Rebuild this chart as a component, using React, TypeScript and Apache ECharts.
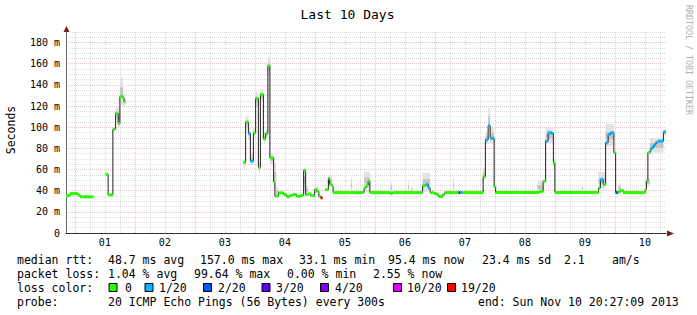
import React, { useEffect, useRef } from 'react';
import * as echarts from 'echarts';

// hours relative to Fri Nov 1 2013 00:00
const START_H = -3.55; // Oct 31 20:27
const END_H = 236.45; // Nov 10 20:27
const Y_MIN = 0;
const Y_MAX = 190;

const dayLabels = ['01', '02', '03', '04', '05', '06', '07', '08', '09', '10'];
const dayNoonHours = [12, 36, 60, 84, 108, 132, 156, 180, 204, 228];

// median rtt (ms) per step; each step lasts until the next start
const segStart = [
  -3.55, -1.9, 1.1, 2.1, 7.4,
  12.3, 13.3, 15.2, 16.3, 17.3, 18.0, 19.3, 19.7, 20.2,
  67.5, 68.3, 69.4, 70.2, 71.4, 72.3, 73.4, 74.2, 75.4, 76.3,
  77.2, 78.0, 79.5, 80.0, 81.5, 83.5, 84.7, 85.9, 87.1, 88.7,
  90.3, 91.5, 92.3, 93.3, 94.3, 95.9, 96.7, 97.6, 98.3, 99.1,
  100.1, 101.4, 101.9, 102.9, 103.3, 115.7, 116.5, 117.3, 118.0, 126.3, 127.1,
  139.1, 140.5, 141.3, 142.1, 143.7, 144.7, 145.5, 147.1, 147.9, 153.5, 154.2, 155.1,
  163.3, 164.2, 165.3, 166.1, 167.7, 168.3,
  185.9, 187.3, 188.3, 189.3, 190.8, 191.4, 192.0,
  209.5, 210.2, 211.3, 212.3, 213.3, 214.3, 215.6, 216.3, 217.3, 218.3, 219.3,
  228.1, 228.6, 229.2, 230.1, 230.7, 231.4, 232.1, 232.7, 233.3, 235.4,
];
const segMedian: (number | null)[] = [
  35.5, 37.3, 36.0, 34.2, null,
  55.5, 36.0, 98.0, 113.0, 103.5, 129.0, 127.0, 124.0, null,
  66.9, 104.8, 94.0, 68.0, 94.5, 127.3, 62.0, 130.8, 89.0, 94.0,
  158.0, 71.0, 48.3, 35.0, 38.0, 36.3, 34.3, 35.4, 36.3, 34.7,
  35.6, 59.3, 36.3, 37.0, 35.4, 41.0, 39.4, 34.7, 33.2, null,
  41.0, 51.5, 46.0, 44.0, 38.2, 42.6, 45.0, 49.0, 38.2, 37.3, 38.2,
  44.8, 46.0, 42.6, 38.2, 37.3, 36.3, 34.5, 36.3, 38.2, 38.2, 38.2, 38.2,
  53.5, 88.0, 101.5, 89.5, 43.6, 38.2,
  39.4, 48.9, 87.0, 94.8, 94.1, 66.4, 38.2,
  42.6, 50.5, 45.8, 85.3, 93.2, 94.8, 75.8, 38.2, 39.0, 40.4, 38.2,
  41.0, 48.9, 76.0, 79.0, 80.6, 82.7, 84.8, 86.0, 86.8, 95.4,
];
// index into lossColors
const segLoss = [
  0, 0, 0, 0, 0,
  0, 0, 0, 0, 0, 0, 0, 0, 0,
  0, 0, 1, 1, 0, 0, 0, 0, 0, 0,
  0, 0, 0, 0, 0, 0, 0, 0, 0, 0,
  0, 0, 0, 0, 0, 0, 0, 0, 6, 0,
  0, 0, 0, 0, 0, 0, 0, 0, 0, 0, 0,
  0, 1, 1, 0, 0, 0, 0, 0, 0, 3, 1, 0,
  0, 1, 1, 1, 0, 0,
  0, 0, 1, 1, 1, 0, 0,
  0, 1, 0, 1, 1, 1, 0, 2, 0, 0, 0,
  0, 0, 0, 1, 1, 1, 1, 1, 1, 1,
];

// smoke (spread of the 20 pings)
const smokeStart = [16.3, 17.3, 18.0, 19.3, 67.5, 68.3, 69.4, 70.2, 71.4, 72.3, 73.4, 74.2, 75.4, 76.3, 77.2, 78.0, 79.5, 80.5, 91.5, 92.3, 96.0, 101.2, 110.4, 115.7, 126.3, 133.3, 134.6, 139.1, 151.3, 163.3, 164.2, 165.3, 166.1, 185.0, 188.3, 191.4, 202.8, 209.5, 212.3, 217.3, 228.1, 230.0, 235.4];
const smokeEnd = [17.3, 18.0, 19.3, 20.2, 68.3, 69.4, 70.2, 71.4, 72.3, 73.4, 74.2, 75.4, 76.3, 77.2, 78.0, 79.5, 80.5, 81.5, 92.3, 93.3, 97.0, 102.9, 110.8, 118.0, 126.9, 133.7, 135.0, 142.1, 151.7, 164.2, 165.3, 166.1, 167.7, 187.3, 191.4, 192.0, 203.2, 212.3, 215.6, 218.3, 230.0, 235.4, 236.45];
const smokeLo = [108, 100, 121, 120, 62, 100, 88, 64, 90, 120, 58, 125, 85, 90, 150, 65, 42, 35, 40, 36, 39, 44, 38, 42, 38, 38, 38, 40, 38, 50, 84, 96, 85, 38, 85, 60, 38, 42, 82, 38, 44, 76, 92];
const smokeHi = [119, 118, 147, 132, 70, 110, 100, 75, 100, 133, 66, 136, 95, 98, 166, 75, 66, 43, 60, 45, 45, 55, 52, 58, 48, 49, 45, 57, 52, 62, 95, 118, 100, 49, 99, 70, 46, 58, 103, 47, 52, 90, 98];

const lossColors = ['#26ff00', '#00b8ff', '#0059ff', '#5e00ff', '#7e00ff', '#dd00ff', '#ff0000'];
const lossLabels = ['0', '1/20', '2/20', '3/20', '4/20', '10/20', '19/20'];

const titleText = 'Last 10 Days';
const yAxisTitle = 'Seconds';
const watermark = 'RRDTOOL / TOBI OETIKER';

const legendRtt: [string, number][] = [
  ['median rtt:', 17], ['48.7 ms avg', 108], ['157.0 ms max', 200], ['33.1 ms min', 299],
  ['95.4 ms now', 388], ['23.4 ms sd', 482], ['2.1', 564], ['am/s', 612],
];
const legendLoss: [string, number][] = [
  ['packet loss:', 17], ['1.04 % avg', 108], ['99.64 % max', 194], ['0.00 % min', 287], ['2.55 % now', 373],
];
const lossBoxX = [109, 145, 203.5, 262, 320.5, 393.5, 447.5];
const lossLabelX = [125, 159, 218, 276, 335, 407, 461];
const legendProbe: [string, number][] = [
  ['probe:', 17], ['20 ICMP Echo Pings (56 Bytes) every 300s', 108], ['end: Sun Nov 10 20:27:09 2013', 478],
];

const MONO = '"DejaVu Sans Mono", "Liberation Mono", monospace';
const LEG_SIZE = 11.5;
const RED_GRID = 'rgba(210, 60, 60, 0.32)';
const GRAY_GRID = 'rgba(150, 150, 150, 0.3)';

function buildOption() {
  const n = segStart.length;
  const lineData: (number | null)[][] = [];
  const marks: number[][] = [];
  for (let i = 0; i < n; i++) {
    const v = segMedian[i];
    const end = i + 1 < n ? segStart[i + 1] : END_H;
    if (v == null) {
      lineData.push([segStart[i], null]);
      continue;
    }
    lineData.push([segStart[i], v]);
    if (i + 1 >= n || segMedian[i + 1] == null) lineData.push([end, v]);
    marks.push([segStart[i], end, v, segLoss[i]]);
  }
  const smoke = smokeStart.map((s, i) => [s, smokeEnd[i], smokeLo[i], smokeHi[i]]);
  const vGrid: number[][] = [];
  for (let h = 0; h <= END_H; h += 6) vGrid.push([h, h % 24 === 0 ? 1 : 0]);
  const days = dayNoonHours.map((h, i) => [h, 0, i]);

  const graphic: any[] = [];
  graphic.push({
    type: 'text', x: 347.5, y: 14,
    style: { text: titleText, fontFamily: MONO, fontSize: 13, fill: '#000', textAlign: 'center', textVerticalAlign: 'middle' },
  });
  graphic.push({
    type: 'text', x: 11, y: 130, rotation: Math.PI / 2,
    style: { text: yAxisTitle, fontFamily: MONO, fontSize: LEG_SIZE, fill: '#000', textAlign: 'center', textVerticalAlign: 'middle' },
  });
  graphic.push({
    type: 'text', x: 688.5, y: 60, rotation: -Math.PI / 2,
    style: { text: watermark, fontFamily: MONO, fontSize: 8.3, fill: '#b0b0b0', textAlign: 'center', textVerticalAlign: 'middle' },
  });
  // axis arrows
  graphic.push({ type: 'polygon', shape: { points: [[63.5, 32], [69.5, 32], [66.5, 26]] }, style: { fill: '#7f1a1a' } });
  graphic.push({ type: 'polygon', shape: { points: [[667, 230.5], [667, 236.5], [674, 233.5]] }, style: { fill: '#7f1a1a' } });

  const addLine = (items: [string, number][], y: number) => {
    items.forEach(([t, x]) => {
      graphic.push({
        type: 'text', x, y,
        style: { text: t, fontFamily: MONO, fontSize: LEG_SIZE, fill: '#000', textAlign: 'left', textVerticalAlign: 'middle' },
      });
    });
  };
  addLine(legendRtt, 260);
  addLine(legendLoss, 273.5);
  addLine([['loss color:', 17]], 287.5);
  lossLabels.forEach((_lab, i) => {
    graphic.push({
      type: 'rect', shape: { x: lossBoxX[i], y: 283.5, width: 8, height: 8 },
      style: { fill: lossColors[i], stroke: '#000', lineWidth: 1 },
    });
  });
  addLine(lossLabels.map((l, i) => [l, lossLabelX[i]] as [string, number]), 287.5);
  addLine(legendProbe, 301.5);

  return {
    animation: false,
    backgroundColor: '#ffffff',
    grid: { left: 66, top: 32, width: 600, height: 201, containLabel: false },
    xAxis: {
      type: 'value', min: START_H, max: END_H,
      axisLine: { show: true, onZero: false, lineStyle: { color: '#333', width: 1 } },
      axisTick: { show: false }, axisLabel: { show: false }, splitLine: { show: false },
    },
    yAxis: {
      type: 'value', min: Y_MIN, max: Y_MAX, interval: 5,
      axisLine: { show: true, onZero: false, lineStyle: { color: '#666', width: 1 } },
      axisTick: { show: false },
      axisLabel: {
        fontFamily: MONO, fontSize: 10, color: '#000', margin: 6,
        formatter: (v: number) => (v % 20 === 0 ? (v === 0 ? '0' : `${v} m`) : ''),
      },
      splitLine: { show: true, lineStyle: { color: [RED_GRID, GRAY_GRID, GRAY_GRID, GRAY_GRID], type: [1, 1], width: 1 } },
    },
    graphic,
    series: [
      {
        type: 'custom', name: 'vgrid', z: 1, silent: true, data: vGrid,
        renderItem: (params: any, api: any) => {
          const cs = params.coordSys;
          const x = Math.round(api.coord([api.value(0), 0])[0]) + 0.5;
          return {
            type: 'line',
            shape: { x1: x, y1: cs.y, x2: x, y2: cs.y + cs.height },
            style: { stroke: api.value(1) === 1 ? RED_GRID : GRAY_GRID, lineWidth: 1, lineDash: [1, 1] },
          };
        },
      },
      {
        type: 'custom', name: 'smoke', z: 2, silent: true, data: smoke,
        encode: { x: [0, 1], y: [2, 3] },
        renderItem: (_p: any, api: any) => {
          const s = api.value(0), e = api.value(1), lo = api.value(2), hi = api.value(3);
          const a = api.coord([s, hi]);
          const b = api.coord([e, lo]);
          const span = hi - lo;
          const ia = api.coord([s, hi - span * 0.35]);
          const ib = api.coord([e, lo + span * 0.3]);
          return {
            type: 'group',
            children: [
              { type: 'rect', shape: { x: a[0], y: a[1], width: b[0] - a[0], height: b[1] - a[1] }, style: { fill: '#e2e2e2' } },
              { type: 'rect', shape: { x: ia[0], y: ia[1], width: ib[0] - ia[0], height: ib[1] - ia[1] }, style: { fill: '#c6c6c6' } },
            ],
          };
        },
      },
      {
        type: 'line', name: 'median', z: 3, silent: true, step: 'end', showSymbol: false, symbol: 'none',
        connectNulls: false, data: lineData,
        lineStyle: { color: '#202020', width: 1 },
      },
      {
        type: 'custom', name: 'loss', z: 4, silent: true, data: marks,
        encode: { x: [0, 1], y: 2 },
        renderItem: (_p: any, api: any) => {
          const s = api.value(0), e = api.value(1), v = api.value(2), l = api.value(3);
          const a = api.coord([s, v]);
          const b = api.coord([e, v]);
          return {
            type: 'rect',
            shape: { x: a[0], y: a[1] - 1.5, width: Math.max(1, b[0] - a[0]), height: 3 },
            style: { fill: lossColors[l] },
          };
        },
      },
      {
        type: 'custom', name: 'days', z: 5, silent: true, data: days,
        renderItem: (params: any, api: any) => {
          const p = api.coord([api.value(0), 0]);
          return {
            type: 'text', x: p[0], y: p[1] + 9,
            style: { text: dayLabels[params.dataIndex], fontFamily: MONO, fontSize: 10, fill: '#000', textAlign: 'center', textVerticalAlign: 'middle' },
          };
        },
      },
    ],
  };
}

export default function App() {
  const ref = useRef<HTMLDivElement>(null);
  useEffect(() => {
    if (!ref.current) return;
    const chart = echarts.init(ref.current, null, { renderer: 'svg' });
    chart.setOption(buildOption() as any);
    return () => chart.dispose();
  }, []);
  return (
    <div
      ref={ref}
      style={{ position: 'fixed', left: 0, top: 0, width: 697, height: 315, background: '#ffffff' }}
    />
  );
}
